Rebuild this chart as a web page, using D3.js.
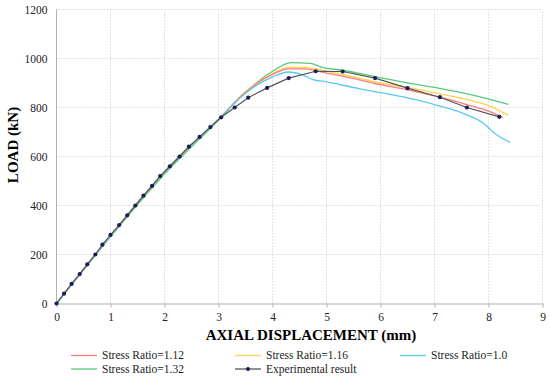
<!DOCTYPE html>
<html lang="en">
<head>
  <meta charset="UTF-8">
  <title>Load vs axial displacement</title>
  <style>
    body { margin: 0; background: #fff; }
    svg { display: block; font-family: "Liberation Serif", "Times New Roman", serif; }
    .grid line { stroke: #c8c8c8; stroke-dasharray: 1,2; }
    .axis path, .axis line { stroke: #b0b0b0; }
  </style>
</head>
<body>
  <svg id="chart" width="550" height="379"></svg>
  <script src="https://d3js.org/d3.v7.min.js"></script>
  <script>
    // tick values
    var xTicks = [0, 1, 2, 3, 4, 5, 6, 7, 8, 9]
    var yTicks = [0, 200, 400, 600, 800, 1000, 1200]

    // simulation curves (displacement mm, load kN)
    var sr112X = [0, 1, 2, 3, 3.5, 4, 4.3, 4.6, 4.9, 5.3, 5.9, 6.5, 7.1, 7.6, 8.0, 8.27]
    var sr112Y = [0, 276, 538, 752, 862, 935, 958, 958, 945, 928, 898, 872, 842, 812, 785, 759]

    var sr116X = [0, 1, 2, 3, 3.5, 4, 4.3, 4.6, 4.9, 5.3, 5.9, 6.5, 7.1, 7.6, 8.0, 8.37]
    var sr116Y = [0, 276, 538, 752, 864, 938, 964, 964, 953, 935, 905, 882, 856, 833, 808, 769]

    var sr10X = [0, 1, 2, 3, 3.5, 4, 4.3, 4.57, 4.75, 5.0, 5.6, 6.4, 7.0, 7.6, 7.9, 8.1, 8.4]
    var sr10Y = [0, 276, 538, 752, 858, 925, 945, 932, 914, 905, 877, 844, 812, 770, 737, 697, 657]

    var sr132X = [0, 1, 2, 3, 3.5, 4, 4.35, 4.7, 4.9, 5.3, 5.9, 6.4, 7.0, 7.65, 8.37]
    var sr132Y = [0, 272, 528, 748, 862, 948, 983, 980, 965, 952, 926, 905, 882, 854, 813]

    // experimental points
    var expX = [0, 0.14, 0.28, 0.43, 0.57, 0.72, 0.85, 1.0, 1.16, 1.31, 1.46, 1.61, 1.77, 1.92, 2.1, 2.28, 2.45, 2.65, 2.85, 3.05, 3.3, 3.55, 3.9, 4.3, 4.8, 5.3, 5.9, 6.5, 7.1, 7.6, 8.2]
    var expY = [0, 40, 80, 120, 160, 200, 240, 280, 320, 360, 400, 440, 480, 520, 560, 600, 640, 680, 720, 760, 800, 840, 880, 920, 948, 947, 920, 879, 842, 800, 762]

    var seriesNames = ['Stress Ratio=1.12', 'Stress Ratio=1.16', 'Stress Ratio=1.0', 'Stress Ratio=1.32', 'Experimental result']
    var seriesColors = ['#ff7b7b', '#ffd24d', '#5cc8f2', '#56c97a', '#555555']

    var svg = d3.select('#chart')
    var x = d3.scaleLinear().domain([0, 9]).range([56.5, 542.5])
    var y = d3.scaleLinear().domain([0, 1200]).range([303.5, 9.5])

    // grid
    svg.append('g').attr('class', 'grid')
      .selectAll('line.v').data(xTicks.slice(1)).enter().append('line')
      .attr('x1', d => x(d)).attr('x2', d => x(d))
      .attr('y1', y(0)).attr('y2', y(1200))
    svg.append('g').attr('class', 'grid')
      .selectAll('line.h').data(yTicks.slice(1)).enter().append('line')
      .attr('x1', x(0)).attr('x2', x(9))
      .attr('y1', d => y(d)).attr('y2', d => y(d))

    function styleTicks (g) {
      g.attr('font-family', null).attr('font-size', null)
      g.selectAll('text')
        .style('font-family', '"Liberation Serif", serif')
        .style('font-size', '11.5px')
        .attr('fill', '#222')
    }

    // axes
    svg.append('g').attr('class', 'axis')
      .attr('transform', 'translate(0,' + y(0) + ')')
      .call(d3.axisBottom(x).tickValues(xTicks).tickFormat(d3.format('d')).tickSize(4).tickSizeOuter(0))
      .call(styleTicks)
      .call(g => g.selectAll('text').attr('dy', '0.95em'))
    svg.append('g').attr('class', 'axis')
      .attr('transform', 'translate(' + x(0) + ',0)')
      .call(d3.axisLeft(y).tickValues(yTicks).tickFormat(d3.format('d')).tickSize(0).tickPadding(9))
      .call(styleTicks)
      .call(g => g.select('.domain').attr('d', 'M0,' + y(0) + 'V' + y(1200)))

    // titles
    svg.append('text')
      .attr('x', 311).attr('y', 339.5)
      .attr('text-anchor', 'middle')
      .style('font-size', '15px').style('font-weight', 'bold')
      .text('AXIAL DISPLACEMENT (mm)')
    svg.append('text')
      .attr('transform', 'translate(18,145) rotate(-90)')
      .attr('text-anchor', 'middle')
      .style('font-size', '15px').style('font-weight', 'bold')
      .text('LOAD (kN)')

    var line = d3.line().x(d => x(d[0])).y(d => y(d[1])).curve(d3.curveMonotoneX)
    var sims = [[sr112X, sr112Y], [sr116X, sr116Y], [sr10X, sr10Y], [sr132X, sr132Y]]
    var order = [3, 1, 0, 2]
    order.forEach(function (i) {
      var pts = d3.zip(sims[i][0], sims[i][1])
      svg.append('path')
        .attr('d', line(pts))
        .attr('fill', 'none')
        .attr('stroke', seriesColors[i])
        .attr('stroke-width', 1.3)
    })

    var expPts = d3.zip(expX, expY)
    svg.append('path')
      .attr('d', d3.line().x(d => x(d[0])).y(d => y(d[1]))(expPts))
      .attr('fill', 'none')
      .attr('stroke', '#555555')
      .attr('stroke-width', 1.2)
    svg.selectAll('circle.exp').data(expPts).enter().append('circle')
      .attr('class', 'exp')
      .attr('cx', d => x(d[0])).attr('cy', d => y(d[1]))
      .attr('r', 2.1)
      .attr('fill', '#1c1c5c')

    // legend
    var legX = [71, 235, 400]
    var legY = [355.5, 369]
    seriesNames.forEach(function (name, i) {
      var lx = legX[i % 3], ly = legY[Math.floor(i / 3)]
      var g = svg.append('g')
      g.append('line')
        .attr('x1', lx).attr('x2', lx + 26)
        .attr('y1', ly).attr('y2', ly)
        .attr('stroke', seriesColors[i]).attr('stroke-width', 1.3)
      if (i === 4) {
        g.append('circle').attr('cx', lx + 13).attr('cy', ly).attr('r', 2.1).attr('fill', '#1c1c5c')
      }
      g.append('text')
        .attr('x', lx + 31).attr('y', ly + 3.8)
        .style('font-size', '11.5px').style('fill', '#222')
        .text(name)
    })
  </script>
</body>
</html>
